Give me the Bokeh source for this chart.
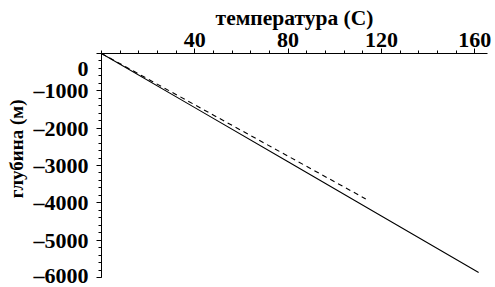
from bokeh.plotting import figure
from bokeh.models import Range1d, FixedTicker
from bokeh.embed import file_html
from bokeh.resources import INLINE

# data
solid_temp = [0, 40, 80, 120, 161.7]
solid_depth = [0, -1450, -2900, -4350, -5865]
dashed_temp = [0, 113.3]
dashed_depth = [0, -3895]

x_ticks = [40, 80, 120, 160]
y_ticks = [0, -1000, -2000, -3000, -4000, -5000, -6000]
y_tick_labels = ["\n0", "\u20131000", "\u20132000", "\u20133000", "\u20134000", "\u20135000", "\u20136000"]
x_title = "температура (C)"
y_title = "глубина (м)"

FONT = "Liberation Serif"

p = figure(width=495, height=287, output_backend="svg", toolbar_location=None,
           x_range=Range1d(0, 165.5), y_range=Range1d(-6000, 0),
           x_axis_location="above",
           min_border_left=101, min_border_right=8, min_border_top=53, min_border_bottom=10)
p.outline_line_color = None
p.grid.visible = False
p.background_fill_color = "white"
p.border_fill_color = "white"

p.line(solid_temp, solid_depth, line_color="black", line_width=1.1)
p.line(dashed_temp, dashed_depth, line_color="black", line_width=1.1, line_dash="5 4")

xa = p.xaxis[0]
xa.ticker = FixedTicker(ticks=x_ticks, minor_ticks=list(range(0, 166, 8)))
xa.axis_label = x_title
xa.axis_label_text_font = FONT
xa.axis_label_text_font_style = "bold"
xa.axis_label_text_font_size = "21.5px"
xa.axis_label_standoff = 0
xa.major_label_text_font = FONT
xa.major_label_text_font_style = "bold"
xa.major_label_text_font_size = "22px"
xa.major_label_standoff = 2

ya = p.yaxis[0]
ya.ticker = FixedTicker(ticks=y_ticks, minor_ticks=list(range(-6000, 1, 200)))
ya.major_label_overrides = {t: s for t, s in zip(y_ticks, y_tick_labels)}
ya.major_label_text_font = FONT
ya.major_label_text_font_style = "bold"
ya.major_label_text_font_size = "22px"
ya.major_label_standoff = 8
# leading no-break spaces move the rotated title up, as in the reference
ya.axis_label = "\u00a0" * 7 + y_title
ya.axis_label_text_font = FONT
ya.axis_label_text_font_style = "bold"
ya.axis_label_text_font_size = "19px"
ya.axis_label_standoff = 4

for ax in (xa, ya):
    ax.axis_line_color = "black"
    ax.axis_line_width = 1
    ax.major_tick_line_color = "black"
    ax.minor_tick_line_color = "black"
    ax.major_tick_in = 0
    ax.major_tick_out = 5
    ax.minor_tick_in = 0
    ax.minor_tick_out = 3
    ax.major_label_text_color = "black"
    ax.axis_label_text_color = "black"

open("out.html", "w").write(file_html(p, INLINE))
